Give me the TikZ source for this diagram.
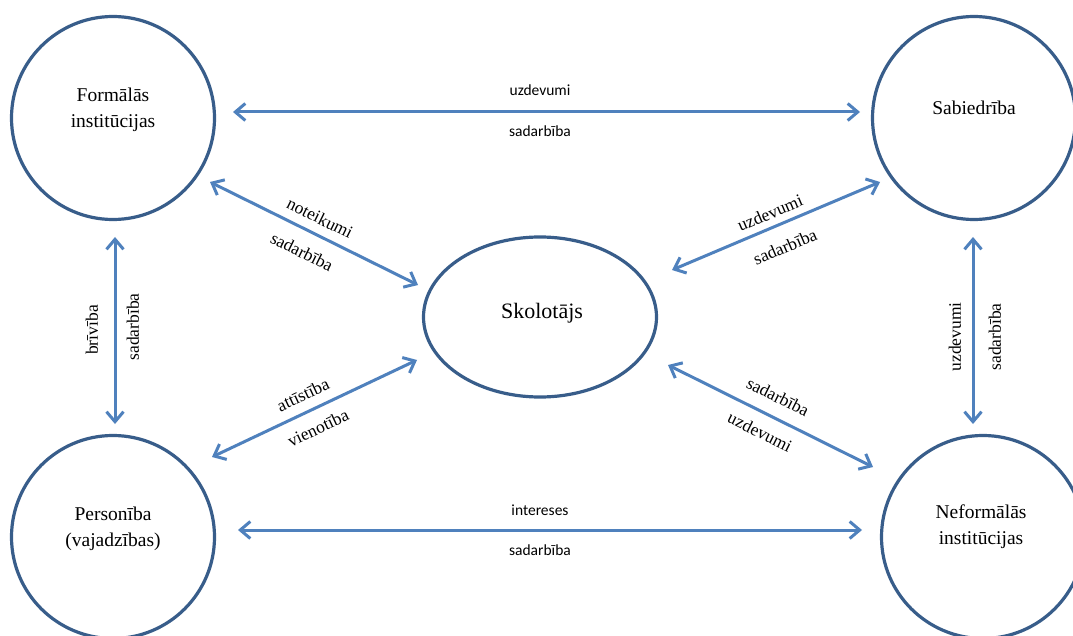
\documentclass[tikz,border=0pt]{standalone}
\usepackage{fontspec}
\setmainfont{Liberation Serif}
\newfontfamily\calfont{Carlito}
\usetikzlibrary{arrows.meta,shapes.geometric}
\definecolor{ringc}{HTML}{385D8A}
\definecolor{arrc}{HTML}{4F81BD}
\begin{document}
\begin{tikzpicture}[x=1pt,y=-1pt,
 ring/.style={circle, draw=ringc, line width=3.2pt, minimum size=203pt, inner sep=0pt},
 oval/.style={ellipse, draw=ringc, line width=3.2pt, minimum width=233pt, minimum height=160pt, inner sep=0pt},
 conn/.style={draw=arrc, line width=3pt, {Straight Barb[length=10pt,width=17pt]}-{Straight Barb[length=10pt,width=17pt]}},
 ntext/.style={font=\fontsize{19.5}{26}\selectfont, align=center, inner sep=0pt},
 slab/.style={font=\fontsize{17.5}{20}\selectfont, inner sep=0pt},
 hlab/.style={font=\calfont\fontsize{15.5}{18}\selectfont, inner sep=0pt}]
\useasboundingbox[fill=white] (0,0) rectangle (1073,636);

% rings
\node[ring] (fi) at (113,118) {};
\node[ring] (sa) at (974,118) {};
\node[ring] (pe) at (113,537) {};
\node[ring] (ne) at (983,537) {};
\node[oval] (sk) at (540,317) {};

\node[ntext] (fit) at (113,110) {Formālās\\institūcijas};
\node[ntext] (sat) at (974,108) {Sabiedrība};
\node[ntext] (pet) at (113,529) {Personība\\(vajadzības)};
\node[ntext] (net) at (981,527) {Neformālās\\institūcijas};
\node[font=\fontsize{22}{26}\selectfont, inner sep=0pt] (skt) at (542,313) {Skolotājs};

% connector ends
\coordinate (t1) at (233,112);  \coordinate (t2) at (860,112);
\coordinate (b1) at (238,530);  \coordinate (b2) at (862,530);
\coordinate (l1) at (115,237);  \coordinate (l2) at (115,424);
\coordinate (r1) at (973,237);  \coordinate (r2) at (973,424);
\coordinate (d1) at (210,182);  \coordinate (d2) at (418,285);
\coordinate (e1) at (880,182);  \coordinate (e2) at (672,270);
\coordinate (f1) at (417,360);  \coordinate (f2) at (212,457);
\coordinate (g1) at (668,365);  \coordinate (g2) at (873,467);

\draw[conn] (t1) -- (t2);
\draw[conn] (b1) -- (b2);
\draw[conn] (l1) -- (l2);
\draw[conn] (r1) -- (r2);
\draw[conn] (d1) -- (d2);
\draw[conn] (e1) -- (e2);
\draw[conn] (f1) -- (f2);
\draw[conn] (g1) -- (g2);

% labels
\node[hlab] (lt1) at (540,90) {uzdevumi};
\node[hlab] (lt2) at (540,131) {sadarbība};
\node[hlab] (lb1) at (540,510) {intereses};
\node[hlab] (lb2) at (540,550) {sadarbība};
\node[slab, rotate=90] (ll1) at (92,330) {brīvība};
\node[slab, rotate=90] (ll2) at (133,327) {sadarbība};
\node[slab, rotate=90] (lr1) at (955,337) {uzdevumi};
\node[slab, rotate=90] (lr2) at (995,337) {sadarbība};
\node[slab, rotate=-26.3] (ld1) at (320,218) {noteikumi};
\node[slab, rotate=-26.3] (ld2) at (302,252) {sadarbība};
\node[slab, rotate=23] (le1) at (770,213) {uzdevumi};
\node[slab, rotate=23] (le2) at (785,247) {sadarbība};
\node[slab, rotate=25] (lf1) at (303,395) {attīstība};
\node[slab, rotate=25] (lf2) at (318,428) {vienotība};
\node[slab, rotate=-26.5] (lg1) at (778,397) {sadarbība};
\node[slab, rotate=-26.5] (lg2) at (760,432) {uzdevumi};
\end{tikzpicture}
\end{document}
